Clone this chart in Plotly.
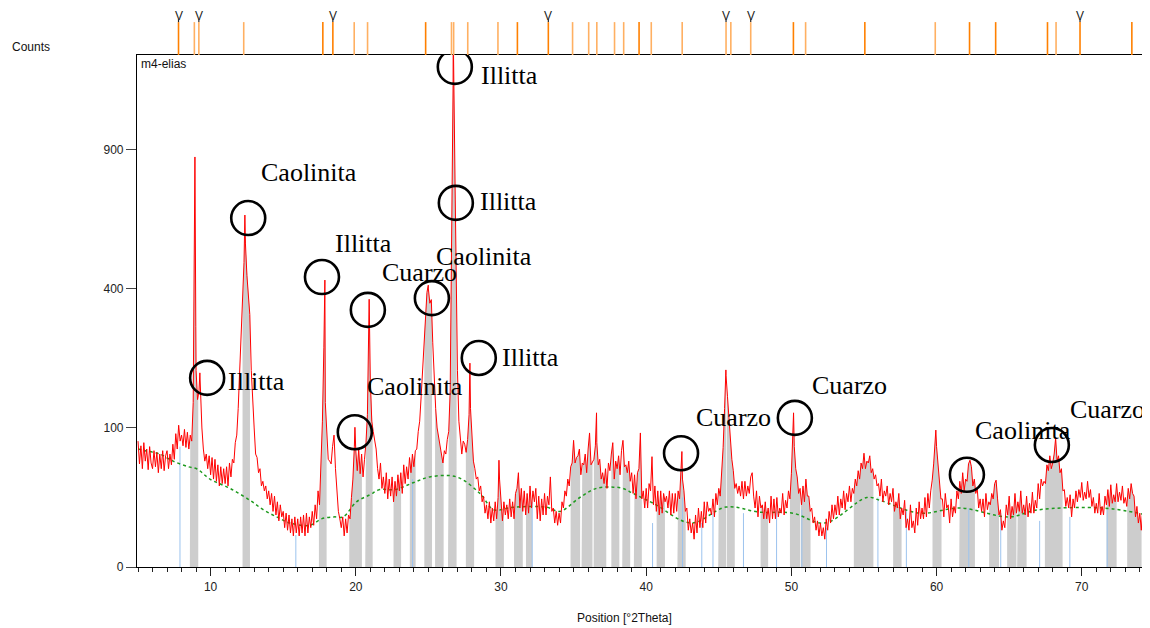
import numpy as np
import plotly.graph_objects as go

# ---------------- data ----------------
# measured scan, counts every 0.1 °2Theta starting at 5.0 (one row per degree)
scan_start = 5.0
scan_step = 0.1
scan_rows = [
    [82, 55, 76, 50, 80, 58, 72, 49, 75, 56],        # 5
    [50, 70, 52, 68, 46, 66, 50, 70, 48, 64],        # 6
    [70, 50, 66, 54, 78, 60, 92, 72, 104, 82],       # 7
    [90, 76, 98, 74, 94, 72, 90, 82, 140, 600],      # 8
    [200, 145, 160, 150, 100, 72, 58, 66, 50, 64],   # 9
    [44, 62, 40, 60, 38, 54, 34, 52, 36, 50],        # 10
    [36, 52, 34, 56, 42, 60, 56, 80, 90, 130],       # 11
    [190, 260, 350, 480, 540, 440, 390, 330, 200, 130],  # 12
    [100, 66, 62, 46, 50, 34, 38, 30, 34, 24],       # 13
    [30, 20, 28, 16, 26, 14, 22, 11, 20, 13],        # 14
    [16, 8, 15, 7, 14, 6, 12, 5, 13, 6],             # 15
    [12, 5, 13, 6, 14, 5, 15, 6, 13, 8],             # 16
    [16, 9, 20, 12, 30, 20, 55, 110, 250, 140],      # 17
    [90, 60, 58, 55, 75, 90, 50, 30, 16, 12],        # 18
    [8, 13, 5, 12, 6, 14, 12, 25, 40, 75],           # 19
    [70, 48, 72, 45, 66, 42, 60, 80, 120, 250],      # 20
    [180, 110, 95, 85, 72, 50, 40, 56, 32, 42],      # 21
    [28, 46, 24, 40, 26, 42, 22, 38, 26, 44],        # 22
    [30, 46, 28, 54, 36, 52, 40, 62, 46, 66],        # 23
    [52, 70, 72, 95, 110, 150, 200, 260, 330, 390],  # 24
    [400, 360, 370, 260, 180, 130, 100, 88, 75, 66], # 25
    [56, 70, 66, 84, 95, 160, 500, 1200, 800, 500],  # 26
    [200, 110, 85, 66, 82, 78, 68, 84, 120, 130],    # 27
    [85, 58, 50, 40, 42, 30, 34, 22, 26, 15],        # 28
    [20, 12, 22, 10, 18, 11, 22, 12, 25, 40],        # 29
    [24, 11, 22, 14, 20, 12, 24, 13, 22, 12],        # 30
    [28, 32, 46, 18, 32, 16, 30, 14, 28, 15],        # 31
    [34, 18, 30, 22, 32, 12, 26, 11, 24, 14],        # 32
    [28, 14, 26, 20, 42, 16, 18, 10, 16, 9],         # 33
    [15, 10, 22, 18, 30, 26, 40, 34, 52, 56],        # 34
    [83, 56, 62, 64, 72, 44, 56, 54, 66, 46],        # 35
    [72, 93, 54, 58, 60, 76, 80, 54, 60, 40],        # 36
    [46, 36, 50, 32, 56, 48, 66, 80, 40, 58],        # 37
    [50, 64, 44, 70, 83, 52, 54, 46, 58, 38],        # 38
    [46, 28, 44, 24, 46, 50, 93, 24, 30, 18],        # 39
    [32, 18, 36, 30, 63, 20, 34, 16, 30, 14],        # 40
    [30, 15, 28, 22, 26, 18, 30, 14, 28, 15],        # 41
    [28, 16, 30, 24, 50, 40, 30, 16, 18, 7],         # 42
    [12, 6, 10, 4, 14, 6, 18, 8, 16, 8],             # 43
    [22, 10, 22, 16, 18, 14, 24, 13, 28, 20],        # 44
    [32, 26, 45, 74, 130, 190, 150, 110, 80, 60],    # 45
    [48, 32, 36, 28, 34, 26, 38, 24, 38, 26],        # 46
    [34, 28, 42, 46, 26, 18, 30, 13, 26, 18],        # 47
    [20, 12, 22, 12, 18, 10, 26, 12, 24, 12],        # 48
    [25, 13, 18, 15, 28, 14, 23, 18, 30, 24],        # 49
    [45, 85, 75, 50, 42, 28, 32, 20, 34, 22],        # 50
    [40, 26, 26, 16, 18, 10, 13, 7, 11, 5],          # 51
    [10, 5, 8, 4, 12, 7, 16, 10, 20, 12],            # 52
    [20, 14, 26, 14, 24, 18, 30, 17, 28, 22],        # 53
    [34, 22, 32, 28, 40, 34, 48, 40, 56, 50],        # 54
    [67, 50, 58, 56, 64, 46, 50, 40, 44, 34],        # 55
    [36, 26, 40, 22, 30, 26, 34, 20, 28, 22],        # 56
    [32, 16, 22, 18, 28, 12, 18, 14, 23, 8],         # 57
    [12, 7, 20, 8, 11, 6, 18, 9, 22, 12],            # 58
    [18, 12, 25, 13, 28, 18, 30, 39, 55, 80],        # 59
    [75, 52, 35, 24, 24, 13, 28, 18, 20, 10],        # 60
    [24, 13, 19, 15, 30, 24, 38, 28, 46, 30],        # 61
    [40, 38, 55, 59, 52, 34, 40, 28, 32, 18],        # 62
    [24, 16, 24, 13, 28, 17, 22, 20, 28, 24],        # 63
    [36, 39, 24, 14, 17, 7, 11, 8, 20, 14],          # 64
    [26, 12, 19, 14, 28, 15, 22, 16, 30, 15],        # 65
    [20, 14, 26, 13, 21, 15, 29, 15, 23, 18],        # 66
    [36, 24, 40, 34, 38, 36, 54, 48, 64, 50],        # 67
    [56, 66, 86, 58, 64, 46, 50, 30, 31, 19],        # 68
    [25, 18, 27, 13, 24, 18, 30, 22, 31, 25],        # 69
    [37, 23, 29, 24, 38, 25, 31, 19, 25, 15],        # 70
    [21, 15, 28, 14, 19, 14, 26, 20, 31, 19],        # 71
    [35, 21, 27, 22, 36, 22, 29, 23, 34, 21],        # 72
    [25, 19, 32, 24, 36, 28, 26, 13, 19, 10],        # 73
    [15, 7, 17, 11, 13, 6, 14, 9],                   # 74
]
# sharp reflection tops between scan steps
peak_top_theta = [8.86, 8.92, 8.98, 9.26, 12.36, 17.87, 19.94, 20.92, 24.99, 26.65, 26.71, 26.78,
                  26.85, 27.86, 29.86, 36.58, 42.46, 45.49, 50.15, 59.95]
peak_top_counts = [400, 870, 300, 195, 641, 426, 101, 371, 411, 1000, 1500, 900,
                   697, 215, 59, 123, 69, 201, 123, 97]

# integrated peak regions (grey) [°2Theta]
peak_start = [8.57, 12.2, 17.46, 19.55, 20.65, 22.6, 23.72, 24.72, 25.46, 26.35, 27.58, 29.62, 30.9,
              31.72, 34.79, 35.55, 36.38, 37.6, 38.35, 39.15, 40.72, 42.15, 44.96, 45.55, 47.88, 49.9,
              50.65, 54.3, 57.01, 59.72, 61.56, 63.62, 64.86, 65.55, 67.46, 71.71, 73.13]
peak_end = [9.15, 12.71, 17.99, 20.42, 21.16, 23.12, 24.12, 25.25, 26.05, 26.94, 28.15, 30.2, 31.5,
            32.15, 35.45, 36.3, 37.25, 38.15, 38.9, 39.7, 41.29, 42.72, 45.5, 46.1, 48.4, 50.6,
            51.32, 55.65, 57.59, 60.34, 62.64, 64.3, 65.5, 66.2, 68.68, 72.4, 74.12]

# reference pattern sticks (light blue)
ref_theta = [7.89, 15.87, 23.91, 32.15, 40.44, 42.5, 43.83, 44.6, 46.7, 48.98, 50.72, 52.42,
             55.96, 57.92, 62.22, 64.42, 67.1, 69.18, 71.75]
ref_counts = [75, 5.3, 40, 22, 10, 25, 10, 15, 15, 17, 17, 8, 25, 17, 18, 15, 11, 13, 17]

# background (green dotted)
bg_theta = [5.0, 5.5, 6.5, 7.42, 8.46, 9.04, 9.95, 11.33, 12.71, 13.62, 14.55, 15.46, 16.84, 17.64,
            18.5, 19.13, 20.05, 20.97, 21.66, 22.7, 24.0, 25.1, 26.94, 28.55, 29.5, 30.85, 33.14,
            34.06, 35.43, 36.58, 37.73, 38.4, 39.1, 40.5, 43.1, 45.5, 47.8, 50.1, 52.3, 55.2, 56.1,
            58.85, 61.6, 65.0, 66.9, 71.5, 74.5]
bg_counts = [72, 70, 66, 58, 52, 50, 40, 32, 23, 17, 13, 10, 9, 12, 13, 13, 22, 27, 31, 31, 37, 42,
             42, 28, 17, 18.5, 18.5, 16, 25, 32, 33, 32, 28, 21, 10, 18.6, 15.6, 15, 10, 25, 23,
             15, 18, 13, 16.8, 18, 14]

# peak list (top strip)
peaks_strong = [7.79, 17.73, 18.42, 24.81, 31.13, 33.26, 39.51, 50.14, 55.06, 62.27, 64.07,
                67.64, 69.88, 73.45]
peaks_weak = [8.88, 9.19, 12.28, 19.89, 20.81, 26.59, 26.74, 27.71, 29.79, 34.93, 36.04, 36.6,
              37.82, 38.45, 40.35, 42.48, 45.5, 45.83, 47.2, 50.98, 59.91, 68.23]
peaks_marked = [7.79, 9.19, 18.42, 33.26, 45.5, 47.2, 69.88]

# phase identifications
phase_names = ["Illitta", "Caolinita", "Illitta", "Cuarzo", "Caolinita", "Caolinita", "Illitta",
               "Illitta", "Illitta", "Cuarzo", "Cuarzo", "Caolinita", "Cuarzo"]
circle_theta = [9.76, 12.59, 17.67, 20.83, 19.93, 25.24, 26.82, 26.89, 28.47, 42.4, 50.24, 62.09, 67.94]
circle_counts = [185, 630, 435, 342, 94, 374, 1294, 686, 226, 67, 115, 44, 77]
label_theta = [11.05, 13.33, 18.42, 21.66, 20.63, 25.38, 28.48, 28.41, 29.92, 43.28, 51.27, 62.5, 69.04]
label_counts = [179, 807, 543, 450, 168, 500, 1248, 693, 228, 115, 171, 97, 128]

# ---------------- figure ----------------
grid_counts = [v for row in scan_rows for v in row]
grid_theta = np.round(scan_start + scan_step * np.arange(len(grid_counts)), 2)
all_theta = np.concatenate([grid_theta, peak_top_theta])
all_counts = np.concatenate([np.array(grid_counts, float), np.array(peak_top_counts, float)])
order = np.argsort(all_theta, kind="stable")
tt = all_theta[order]
sq = np.sqrt(all_counts[order])

fig = go.Figure()

# grey integrated areas
gx, gy = [], []
for a, b in zip(peak_start, peak_end):
    inside = (tt > a) & (tt < b)
    ya = float(np.interp(a, tt, sq))
    yb = float(np.interp(b, tt, sq))
    gx += [a, a] + list(tt[inside]) + [b, b, None]
    gy += [0, ya] + list(sq[inside]) + [yb, 0, None]
fig.add_trace(go.Scatter(x=gx, y=gy, mode="lines", fill="toself", fillcolor="#cdcdcd",
                         line=dict(width=0, color="#cdcdcd"), hoverinfo="skip", showlegend=False))

# reference sticks
rx, ry = [], []
for p, h in zip(ref_theta, ref_counts):
    rx += [p, p, None]
    ry += [0, float(np.sqrt(h)), None]
fig.add_trace(go.Scatter(x=rx, y=ry, mode="lines", line=dict(color="#9cc3ee", width=1),
                         hoverinfo="skip", showlegend=False))

# background
fig.add_trace(go.Scatter(x=bg_theta, y=np.sqrt(bg_counts), mode="lines", line_shape="spline",
                         line=dict(color="#1e9a1e", width=1.5, dash="dot"),
                         hoverinfo="skip", showlegend=False))

# measured scan
fig.add_trace(go.Scatter(x=tt, y=sq, mode="lines", line=dict(color="#ff0000", width=1),
                         showlegend=False))

# circles
fig.add_trace(go.Scatter(x=circle_theta, y=np.sqrt(circle_counts), mode="markers",
                         marker=dict(symbol="circle-open", size=34, color="black",
                                     line=dict(width=2.6, color="black")),
                         hoverinfo="skip", showlegend=False))

# top strip: peak list
def sticks(pos, y0, y1):
    xs, ys = [], []
    for p in pos:
        xs += [p, p, None]
        ys += [y0, y1, None]
    return xs, ys

sx, sy = sticks(peaks_weak, 0, 0.70)
fig.add_trace(go.Scatter(x=sx, y=sy, mode="lines", line=dict(color="#ffb062", width=1.6),
                         xaxis="x2", yaxis="y2", hoverinfo="skip", showlegend=False))
sx, sy = sticks(peaks_strong, 0, 0.70)
fig.add_trace(go.Scatter(x=sx, y=sy, mode="lines", line=dict(color="#ff8000", width=1.6),
                         xaxis="x2", yaxis="y2", hoverinfo="skip", showlegend=False))
sx, sy = sticks(peaks_marked, 0.70, 0.76)
fig.add_trace(go.Scatter(x=sx, y=sy, mode="lines", line=dict(color="#222222", width=1.2),
                         xaxis="x2", yaxis="y2", hoverinfo="skip", showlegend=False))

# labels
annotations = []
for p in peaks_marked:
    annotations.append(dict(x=p, y=0.83, xref="x2", yref="y2", text="V", showarrow=False,
                            xanchor="center", yanchor="middle",
                            font=dict(family="Liberation Sans Narrow, Liberation Sans", size=12,
                                      color="#222222")))
for name, lx, lc in zip(phase_names, label_theta, label_counts):
    annotations.append(dict(x=lx, y=float(np.sqrt(lc)), xref="x", yref="y", text=name,
                            showarrow=False, xanchor="left", yanchor="middle",
                            font=dict(family="Liberation Serif", size=26, color="black")))

H_PLOT = 559.0
main_top = (H_PLOT - 47) / H_PLOT
annotations += [
    dict(text="Counts", xref="paper", yref="paper", x=-0.1254, y=(H_PLOT - 39) / H_PLOT, xanchor="left",
         yanchor="middle", showarrow=False, font=dict(family="Liberation Sans", size=12, color="#111")),
    dict(text="m4-elias", xref="paper", yref="paper", x=0.002, y=main_top, xanchor="left",
         yanchor="top", showarrow=False, font=dict(family="Liberation Sans", size=12, color="#111")),
    dict(text="Position [°2Theta]", xref="paper", yref="paper", x=0.4817, y=-0.0912, xanchor="center",
         yanchor="middle", showarrow=False, font=dict(family="Liberation Sans", size=12, color="#111")),
]

fig.update_layout(
    width=1142, height=620,
    margin=dict(l=129, r=0, t=0, b=61),
    paper_bgcolor="white", plot_bgcolor="white",
    showlegend=False,
    annotations=annotations,
    xaxis=dict(range=[4.93, 74.7], domain=[0, 1], anchor="y", showgrid=False, zeroline=False,
               showline=True, linecolor="black", linewidth=1.2, mirror=True,
               tickmode="array", tickvals=[10, 20, 30, 40, 50, 60, 70], ticks="outside",
               ticklen=8, tickcolor="#222", tickwidth=1,
               minor=dict(dtick=1, ticks="outside", ticklen=4, tickcolor="#222", showgrid=False),
               tickfont=dict(family="Liberation Sans", size=12, color="#222")),
    yaxis=dict(range=[0, 36.83], domain=[0, main_top], showgrid=False, zeroline=False,
               showline=True, linecolor="black", linewidth=1.2,
               tickmode="array", tickvals=[0, 10, 20, 30], ticktext=["0", "100", "400", "900"],
               ticks="outside", ticklen=10, tickcolor="#444", tickwidth=1,
               tickfont=dict(family="Liberation Sans", size=12, color="#222")),
    xaxis2=dict(matches="x", anchor="y2", visible=False),
    yaxis2=dict(range=[0, 1], domain=[main_top, 1], visible=False),
)

fig.write_html("out.html")
